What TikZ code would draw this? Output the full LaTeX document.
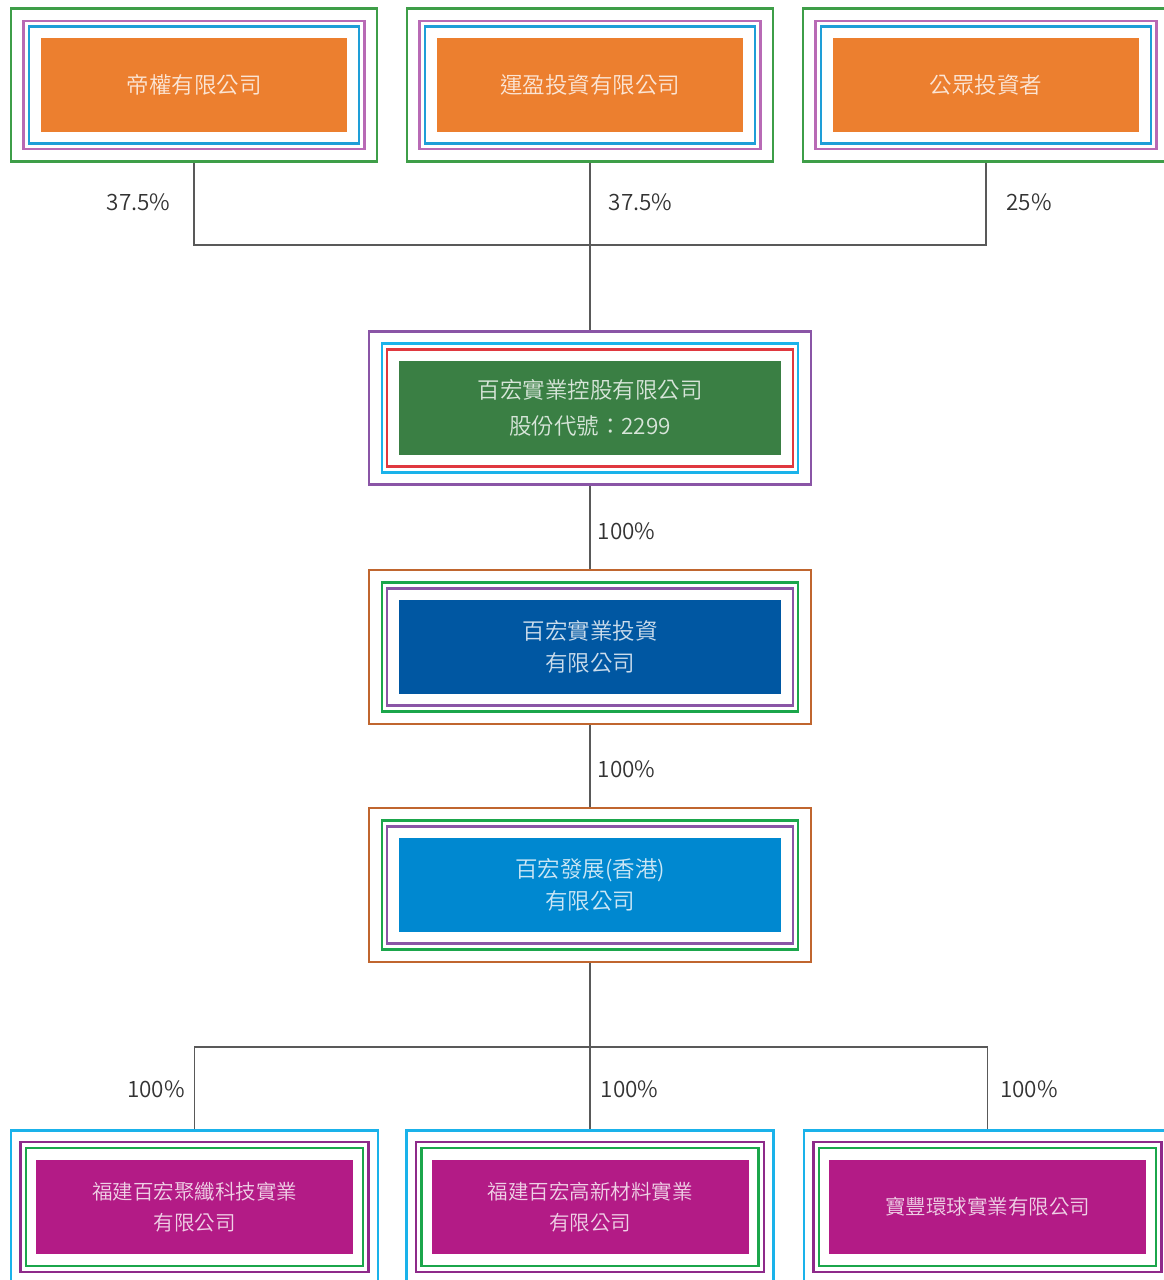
\documentclass[tikz,border=0pt]{standalone}
\usepackage{fontspec}
\setmainfont{Noto Sans CJK TC DemiLight}
\definecolor{corange}{HTML}{EC7F2F}
\definecolor{cgreenfill}{HTML}{3A7F44}
\definecolor{cnavy}{HTML}{0057A2}
\definecolor{csky}{HTML}{0088D0}
\definecolor{cmagenta}{HTML}{B31B86}
\definecolor{rgreen}{HTML}{3E9E48}
\definecolor{rpink}{HTML}{B86AB5}
\definecolor{rblue}{HTML}{1E9ED8}
\definecolor{rpurple}{HTML}{8A55A6}
\definecolor{rcyan}{HTML}{1AB2EA}
\definecolor{rred}{HTML}{E0383F}
\definecolor{rbrown}{HTML}{C0662F}
\definecolor{rleaf}{HTML}{1BA64B}
\definecolor{rplum}{HTML}{8E2A8A}

\tikzset{
  fillbox/.style={fill=#1, text=white, text opacity=.8, inner sep=0pt, align=center,
    font=\fontsize{22.5}{32}\selectfont},
  smallbox/.style={fillbox=#1, font=\fontsize{20.5}{31}\selectfont},
  ring/.style={draw=#1, line width=2.2pt, inner sep=0pt},
  pct/.style={font=\fontsize{22.5}{26}\selectfont, text=black!80},
  link/.style={draw=black!65, line width=1.4pt}
}

\begin{document}
\begin{tikzpicture}[x=1pt,y=-1pt]
	\useasboundingbox (0,0) rectangle (1163,1280);
	% shareholders
		\node[fillbox=corange, minimum width=306pt, minimum height=94pt] (dq) at (194,85) {帝權有限公司};
		\node[fillbox=corange, minimum width=306pt, minimum height=94pt] (yy) at (590,85) {運盈投資有限公司};
		\node[fillbox=corange, minimum width=306pt, minimum height=94pt] (gz) at (986,85) {公眾投資者};
	\foreach \n in {dq,yy,gz}{
		\node[ring=rblue, minimum width=330pt, minimum height=117pt] (\n-1) at (\n) {};
		\node[ring=rpink, minimum width=341pt, minimum height=128pt] (\n-2) at (\n) {};
		\node[ring=rgreen, minimum width=366pt, minimum height=153pt] (\n-3) at (\n) {};
	}
	% holding company
		\node[fillbox=cgreenfill, minimum width=382pt, minimum height=94pt] (bh) at (590,408)
			{百宏實業控股有限公司\\[4pt]股份代號：2299};
		\node[ring=rred, minimum width=406pt, minimum height=117pt] (bh-1) at (bh) {};
		\node[ring=rcyan, minimum width=416pt, minimum height=129pt] (bh-2) at (bh) {};
		\node[ring=rpurple, minimum width=442pt, minimum height=153pt] (bh-3) at (bh) {};
	% subsidiaries
		\node[fillbox=cnavy, minimum width=382pt, minimum height=94pt] (tz) at (590,647) {百宏實業投資\\有限公司};
		\node[fillbox=csky, minimum width=382pt, minimum height=94pt] (hk) at (590,885) {百宏發展(香港)\\有限公司};
	\foreach \n in {tz,hk}{
		\node[ring=rpurple, minimum width=406pt, minimum height=117pt] (\n-1) at (\n) {};
		\node[ring=rleaf, minimum width=416pt, minimum height=129pt] (\n-2) at (\n) {};
		\node[ring=rbrown, minimum width=442pt, minimum height=154pt] (\n-3) at (\n) {};
	}
		\node[smallbox=cmagenta, minimum width=317pt, minimum height=94pt] (fj1) at (194.5,1207) {福建百宏聚纖科技實業\\有限公司};
		\node[smallbox=cmagenta, minimum width=317pt, minimum height=94pt] (fj2) at (590,1207) {福建百宏高新材料實業\\有限公司};
		\node[smallbox=cmagenta, minimum width=317pt, minimum height=94pt] (bf) at (987.5,1207) {寶豐環球實業有限公司};
	\foreach \n in {fj1,fj2,bf}{
		\node[ring=rleaf, minimum width=337pt, minimum height=118pt] (\n-1) at (\n) {};
		\node[ring=rplum, minimum width=348pt, minimum height=130pt] (\n-2) at (\n) {};
		\node[ring=rcyan, minimum width=367pt, minimum height=153pt] (\n-3) at (\n) {};
	}
	% links
		\coordinate (jt) at (590,245);
		\coordinate (jb) at (590,1047);
		\draw[link] (dq-3.south) |- (jt) -| (gz-3.south);
		\draw[link] (yy-3.south) -- (bh-3.north);
		\draw[link] (bh-3.south) -- (tz-3.north);
		\draw[link] (tz-3.south) -- (hk-3.north);
		\draw[link] (hk-3.south) -- (fj2-3.north);
		\draw[link] (fj1-3.north) |- (jb) -| (bf-3.north);
	% shares
		\node[pct] (p-dq) at (138.5,202) {37.5\%};
		\node[pct] (p-yy) at (640.5,202) {37.5\%};
		\node[pct] (p-gz) at (1029,202) {25\%};
		\node[pct] (p-bh) at (626.5,531) {100\%};
		\node[pct] (p-tz) at (626.5,769) {100\%};
		\node[pct] (p-fj1) at (156,1089) {100\%};
		\node[pct] (p-fj2) at (629.5,1089) {100\%};
		\node[pct] (p-bf) at (1029,1089) {100\%};
\end{tikzpicture}
\end{document}
